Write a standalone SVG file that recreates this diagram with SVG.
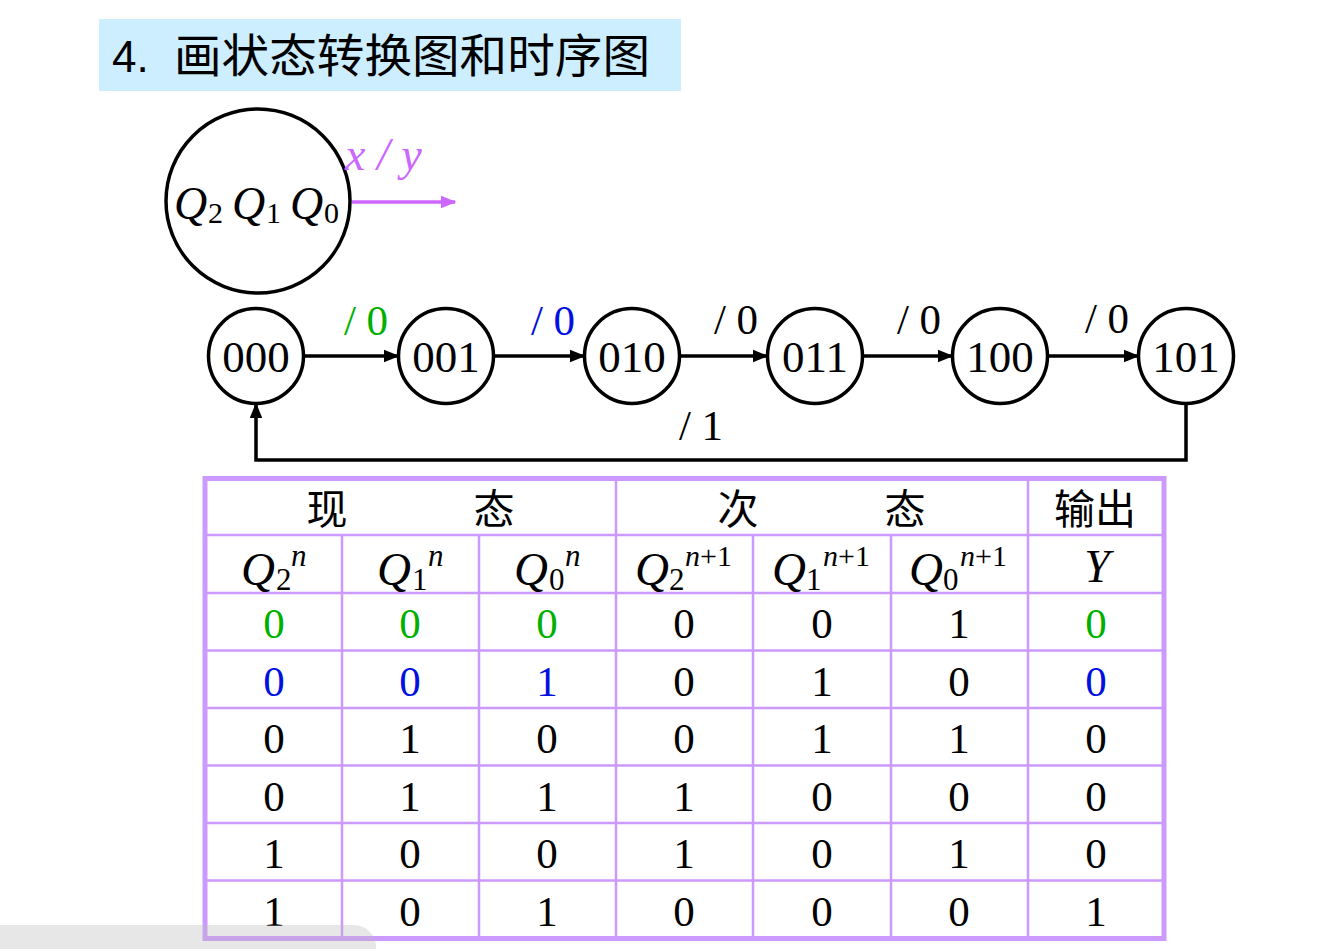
<svg xmlns="http://www.w3.org/2000/svg" width="1333" height="949" viewBox="0 0 1333 949">
<defs>
<style>
.t{font-family:"Liberation Serif","Times New Roman",serif;}
.i{font-style:italic;}
.st{font-family:"Liberation Serif",serif;font-size:45px;text-anchor:middle;}
.lab{font-family:"Liberation Serif",serif;font-size:43px;text-anchor:middle;}
.node{fill:#fff;stroke:#000;stroke-width:3.5;}
.edge{fill:none;stroke:#000;stroke-width:3.5;}
.cj{font-family:"Noto Sans CJK SC","Noto Serif CJK SC",serif;font-size:41px;text-anchor:middle;}
.d{font-family:"Liberation Serif",serif;font-size:43px;text-anchor:middle;}
.g{fill:#00b000;}
.b{fill:#0010e0;}
.grid{stroke:#cc99ff;stroke-width:2.5;fill:none;}
</style>
<marker id="ah" viewBox="0 0 10 10" refX="9" refY="5" markerWidth="4.5" markerHeight="4.5" markerUnits="strokeWidth" orient="auto"><path d="M0,1 L10,5 L0,9 z" fill="#000"/></marker>
<marker id="ahp" viewBox="0 0 10 10" refX="9" refY="5" markerWidth="4.5" markerHeight="4.5" markerUnits="strokeWidth" orient="auto"><path d="M0,1 L10,5 L0,9 z" fill="#cc66ff"/></marker>
</defs>
<rect width="1333" height="949" fill="#fff"/>

<g id="title">
<rect x="99" y="19" width="582" height="72" fill="#cceeff"/>
<text x="112" y="72" font-family="Liberation Sans,Arial,sans-serif" font-size="44">4.</text>
<text x="174" y="72" font-family="Noto Sans CJK SC,sans-serif" font-size="46" textLength="476" lengthAdjust="spacingAndGlyphs">画状态转换图和时序图</text>
</g>

<g id="legend">
<circle cx="258" cy="201" r="92" class="node"/>
<text class="t i" x="174" y="219" font-size="46">Q</text>
<text class="t" x="208" y="223" font-size="30">2</text>
<text class="t i" x="232" y="219" font-size="46">Q</text>
<text class="t" x="266" y="223" font-size="30">1</text>
<text class="t i" x="290" y="219" font-size="46">Q</text>
<text class="t" x="324" y="223" font-size="30">0</text>
<line x1="352" y1="202" x2="455" y2="202" stroke="#cc66ff" stroke-width="3.5" marker-end="url(#ahp)"/>
<text class="t i" x="345" y="170" font-size="46" fill="#cc66ff" xml:space="preserve">x / y</text>
</g>

<g id="connectors">
<line class="edge" x1="304" y1="356" x2="398" y2="356" marker-end="url(#ah)"/>
<line class="edge" x1="494" y1="356" x2="584" y2="356" marker-end="url(#ah)"/>
<line class="edge" x1="680" y1="356" x2="767" y2="356" marker-end="url(#ah)"/>
<line class="edge" x1="863" y1="356" x2="952" y2="356" marker-end="url(#ah)"/>
<line class="edge" x1="1048" y1="356" x2="1138" y2="356" marker-end="url(#ah)"/>
<polyline class="edge" points="1186,404 1186,460 256,460 256,404" marker-end="url(#ah)"/>
<text class="lab g" x="366" y="335">/ 0</text>
<text class="lab b" x="553" y="335">/ 0</text>
<text class="lab" x="736" y="334">/ 0</text>
<text class="lab" x="919" y="334">/ 0</text>
<text class="lab" x="1107" y="333">/ 0</text>
<text class="lab" x="701" y="440">/ 1</text>
</g>

<g id="s000"><circle cx="256" cy="356" r="47.5" class="node"/><text class="st" x="256" y="372">000</text></g>
<g id="s001"><circle cx="446" cy="356" r="47.5" class="node"/><text class="st" x="446" y="372">001</text></g>
<g id="s010"><circle cx="632" cy="356" r="47.5" class="node"/><text class="st" x="632" y="372">010</text></g>
<g id="s011"><circle cx="815" cy="356" r="47.5" class="node"/><text class="st" x="815" y="372">011</text></g>
<g id="s100"><circle cx="1000" cy="356" r="47.5" class="node"/><text class="st" x="1000" y="372">100</text></g>
<g id="s101"><circle cx="1186" cy="356" r="47.5" class="node"/><text class="st" x="1186" y="372">101</text></g>

<g id="table">
<rect x="205" y="478.5" width="959" height="460" fill="none" stroke="#cc99ff" stroke-width="5"/>
<path class="grid" d="M207,535 H1162 M207,593 H1162 M207,650.5 H1162 M207,708 H1162 M207,765.5 H1162 M207,823 H1162 M207,880.5 H1162 M616,481 V936 M1028,481 V936 M342,535 V936 M479,535 V936 M753,535 V936 M891,535 V936"/>
<text class="cj" x="327" y="524">现</text>
<text class="cj" x="494" y="524">态</text>
<text class="cj" x="738" y="524">次</text>
<text class="cj" x="905" y="524">态</text>
<text class="cj" x="1095" y="524">输出</text>

<g font-family="Liberation Serif,serif">
<text class="i" x="241" y="585" font-size="47">Q</text><text x="276" y="590" font-size="31">2</text><text class="i" x="291" y="566" font-size="31">n</text>
<text class="i" x="377" y="585" font-size="47">Q</text><text x="412" y="590" font-size="31">1</text><text class="i" x="428" y="566" font-size="31">n</text>
<text class="i" x="514" y="585" font-size="47">Q</text><text x="549" y="590" font-size="31">0</text><text class="i" x="565" y="566" font-size="31">n</text>
<text class="i" x="635" y="585" font-size="47">Q</text><text x="669" y="590" font-size="31">2</text><text x="685" y="566" font-size="30"><tspan font-style="italic">n</tspan>+1</text>
<text class="i" x="772" y="585" font-size="47">Q</text><text x="806" y="590" font-size="31">1</text><text x="823" y="566" font-size="30"><tspan font-style="italic">n</tspan>+1</text>
<text class="i" x="909" y="585" font-size="47">Q</text><text x="943" y="590" font-size="31">0</text><text x="960" y="566" font-size="30"><tspan font-style="italic">n</tspan>+1</text>
<text class="i" x="1097" y="582" font-size="46" text-anchor="middle">Y</text>
</g>

<g>
<text class="d g" x="274" y="638">0</text><text class="d g" x="410" y="638">0</text><text class="d g" x="547" y="638">0</text><text class="d" x="684" y="638">0</text><text class="d" x="822" y="638">0</text><text class="d" x="959" y="638">1</text><text class="d g" x="1096" y="638">0</text>
<text class="d b" x="274" y="696">0</text><text class="d b" x="410" y="696">0</text><text class="d b" x="547" y="696">1</text><text class="d" x="684" y="696">0</text><text class="d" x="822" y="696">1</text><text class="d" x="959" y="696">0</text><text class="d b" x="1096" y="696">0</text>
<text class="d" x="274" y="753">0</text><text class="d" x="410" y="753">1</text><text class="d" x="547" y="753">0</text><text class="d" x="684" y="753">0</text><text class="d" x="822" y="753">1</text><text class="d" x="959" y="753">1</text><text class="d" x="1096" y="753">0</text>
<text class="d" x="274" y="811">0</text><text class="d" x="410" y="811">1</text><text class="d" x="547" y="811">1</text><text class="d" x="684" y="811">1</text><text class="d" x="822" y="811">0</text><text class="d" x="959" y="811">0</text><text class="d" x="1096" y="811">0</text>
<text class="d" x="274" y="868">1</text><text class="d" x="410" y="868">0</text><text class="d" x="547" y="868">0</text><text class="d" x="684" y="868">1</text><text class="d" x="822" y="868">0</text><text class="d" x="959" y="868">1</text><text class="d" x="1096" y="868">0</text>
<text class="d" x="274" y="926">1</text><text class="d" x="410" y="926">0</text><text class="d" x="547" y="926">1</text><text class="d" x="684" y="926">0</text><text class="d" x="822" y="926">0</text><text class="d" x="959" y="926">0</text><text class="d" x="1096" y="926">1</text>
</g>
</g>

<rect x="-20" y="925" width="396" height="50" rx="22" fill="#bbbbbb" fill-opacity="0.35"/>
</svg>
